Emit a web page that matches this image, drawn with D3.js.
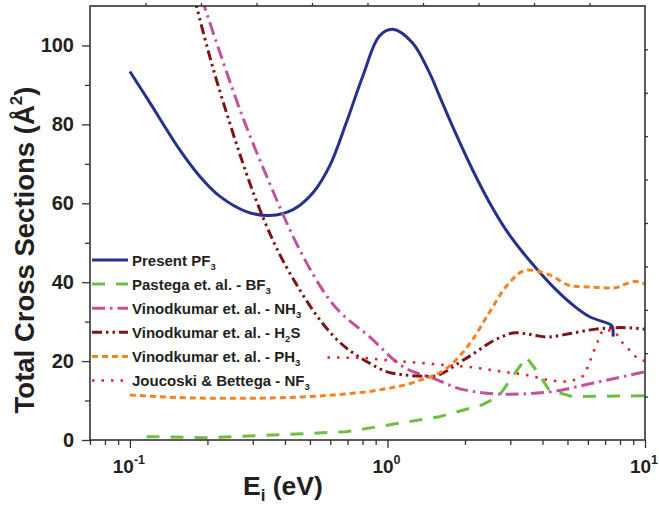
<!DOCTYPE html>
<html>
<head>
<meta charset="utf-8">
<script src="https://cdn.jsdelivr.net/npm/d3@7"></script>
<style>
  body { margin: 0; background: #fff; }
  svg text { font-family: "Liberation Sans", Arial, sans-serif; font-weight: bold; fill: #231f20; }
</style>
</head>
<body>
<div id="chart"></div>
<script>
var width = 659
var height = 506

// data: [energy (eV), cross section (A^2)]
var presentPF3 = [[0.1, 93.4], [0.1195, 85.5], [0.156, 73.6], [0.187, 66.8], [0.223, 61.8], [0.283, 57.9],
    [0.349, 56.9], [0.43, 58.4], [0.513, 62.6], [0.596, 69.4], [0.692, 80.4], [0.802, 92.2], [0.931, 102.4],
    [1.049, 104.1], [1.25, 100.7], [1.455, 93.1], [1.59, 87.3], [1.79, 79.5], [2.14, 68.5], [2.48, 60.4],
    [2.89, 53.2], [3.35, 47.6], [3.83, 43.1], [4.51, 38.1], [5.23, 34.3], [6.07, 31.3], [7.36, 29.2],
    [7.48, 28.6], [7.52, 26.2]];
var pastegaBF3 = [[0.116, 0.85], [0.198, 0.6], [0.319, 1.1], [0.69, 2.1], [1.01, 3.8], [1.59, 5.9], [2.33, 8.9],
    [2.7, 11.0], [3.46, 21.0], [3.77, 17.8], [4.24, 12.7], [5.22, 11.0], [10, 11.2]];
var vinodNH3 = [[0.19, 112], [0.226, 97.3], [0.275, 81.6], [0.344, 66.0], [0.436, 50.8], [0.596, 35.5],
    [0.864, 25.8], [1.146, 18.6], [1.5, 15.7], [1.99, 12.7], [2.97, 11.6], [4.38, 12.3], [6.25, 14.4], [10, 17.3]];
var vinodH2S = [[0.178, 112], [0.204, 97.3], [0.244, 80.4], [0.305, 61.8], [0.358, 50.8], [0.456, 38.1],
    [0.612, 26.6], [0.85, 19.5], [1.05, 16.9], [1.47, 16.1], [2.02, 20.7], [2.7, 25.8], [3.15, 27.2],
    [3.77, 26.5], [4.15, 26.1], [5.23, 27.1], [6.43, 28.1], [8.1, 28.5], [10, 28.1]];
var vinodPH3 = [[0.1, 11.4], [0.204, 10.6], [0.292, 10.6], [0.61, 11.4], [0.93, 12.7], [1.29, 14.8],
    [1.73, 18.6], [2.14, 25.4], [2.48, 32.2], [2.89, 38.9], [3.5, 43.1], [4.24, 41.9], [5.22, 39.0],
    [6.07, 38.8], [7.46, 38.5], [9.2, 40.2], [10, 39.6]];
var joucoskiNF3 = [[0.585, 20.9], [0.78, 20.8], [1.05, 20.1], [1.54, 19.2], [2.27, 18.2], [2.8, 17.3],
    [3.45, 16.5], [4.24, 15.2], [4.78, 14.8], [5.3, 15.2], [5.8, 16.5], [6.07, 19.5], [6.6, 25.4],
    [6.9, 27.9], [7.6, 27.5], [8.0, 25.4], [8.7, 22.8], [9.2, 21.1], [10, 20.0]];

var legendLabels = [["Present PF", "3", ""], ["Pastega et. al. - BF", "3", ""], ["Vinodkumar et. al. - NH", "3", ""],
    ["Vinodkumar et. al. - H", "2", "S"], ["Vinodkumar et. al. - PH", "3", ""], ["Joucoski & Bettega - NF", "3", ""]];
var xMajorTicks = [0.1, 1, 10];
var xMinorTicks = [0.07, 0.08, 0.09, 0.2, 0.3, 0.4, 0.5, 0.6, 0.7, 0.8, 0.9, 2, 3, 4, 5, 6, 7, 8, 9];
var yMajorTicks = [0, 20, 40, 60, 80, 100];
var yMinorTicks = [10, 30, 50, 70, 90];

var series = [
    { data: presentPF3, color: '#27318b', dash: null, width: 3, curve: d3.curveCatmullRom.alpha(0.5) },
    { data: pastegaBF3, color: '#6cbf43', dash: '13,11', width: 3, curve: d3.curveLinear },
    { data: vinodNH3, color: '#c4509e', dash: '13,5,2.5,5', width: 3, curve: d3.curveMonotoneX },
    { data: vinodH2S, color: '#7f1416', dash: '10,4,2.5,4,2.5,4', width: 3, curve: d3.curveMonotoneX },
    { data: vinodPH3, color: '#f7821f', dash: '6,4', width: 3, curve: d3.curveMonotoneX },
    { data: joucoskiNF3, color: '#ed1c24', dash: '2.5,7', width: 2.5, curve: d3.curveMonotoneX }
];

// plot box in pixels
var plotL = 90, plotR = 645, plotT = 6, plotB = 440;

var x = d3.scaleLog().domain([0.07, 10]).range([plotL, plotR]);
var y = d3.scaleLinear().domain([0, 110]).range([plotB, plotT]);

var svg = d3.select('#chart').append('svg')
    .attr('width', width)
    .attr('height', height);

svg.append('clipPath').attr('id', 'plotclip')
    .append('rect')
    .attr('x', plotL).attr('y', plotT)
    .attr('width', plotR - plotL).attr('height', plotB - plotT);

var line = d3.line()
    .x(function(d) { return x(d[0]); })
    .y(function(d) { return y(d[1]); });

var plot = svg.append('g').attr('clip-path', 'url(#plotclip)');

series.forEach(function(s) {
    plot.append('path')
        .attr('d', line.curve(s.curve)(s.data))
        .attr('fill', 'none')
        .attr('stroke', s.color)
        .attr('stroke-width', s.width)
        .attr('stroke-dasharray', s.dash);
});

// axes
var axisColor = '#333';

function styleAxis(g) {
    g.select('.domain').remove();
    g.selectAll('line').attr('stroke', axisColor).attr('stroke-width', 1.3);
    g.selectAll('text').remove();
}

svg.append('g').attr('transform', 'translate(0,' + plotB + ')')
    .call(d3.axisBottom(x).tickValues(xMajorTicks).tickSize(8))
    .call(styleAxis);
svg.append('g').attr('transform', 'translate(0,' + plotB + ')')
    .call(d3.axisBottom(x).tickValues(xMinorTicks).tickSize(5))
    .call(styleAxis);
svg.append('g').attr('transform', 'translate(' + plotL + ',0)')
    .call(d3.axisLeft(y).tickValues(yMajorTicks).tickSize(8))
    .call(styleAxis);
svg.append('g').attr('transform', 'translate(' + plotL + ',0)')
    .call(d3.axisLeft(y).tickValues(yMinorTicks).tickSize(5))
    .call(styleAxis);

// top and right frame ticks (plain divisions)
var xTop = d3.scaleLinear().domain([0, 10]).range([plotL, plotR]);
var yRight = d3.scaleLinear().domain([0, 10]).range([plotB, plotT]);
svg.append('g').attr('transform', 'translate(0,' + plotT + ')')
    .call(d3.axisTop(xTop).tickValues(d3.range(1, 10)).tickSize(3))
    .call(styleAxis);
svg.append('g').attr('transform', 'translate(' + plotR + ',0)')
    .call(d3.axisRight(yRight).tickValues(d3.range(1, 10)).tickSize(3))
    .call(styleAxis);

svg.append('rect')
    .attr('x', plotL).attr('y', plotT)
    .attr('width', plotR - plotL).attr('height', plotB - plotT)
    .attr('fill', 'none')
    .attr('stroke', axisColor)
    .attr('stroke-width', 1.6);

// tick labels
svg.selectAll('.ylab').data(yMajorTicks).enter()
    .append('text')
    .attr('class', 'ylab')
    .attr('x', 74)
    .attr('y', function(d) { return y(d) + 7; })
    .attr('text-anchor', 'end')
    .attr('font-size', 20)
    .text(function(d) { return d; });

var xl = svg.selectAll('.xlab').data(xMajorTicks).enter()
    .append('text')
    .attr('class', 'xlab')
    .attr('x', function(d) { return x(d) - 1; })
    .attr('y', 473)
    .attr('text-anchor', 'middle')
    .attr('font-size', 19);
xl.append('tspan').text('10');
xl.append('tspan')
    .attr('font-size', 12.5)
    .attr('dy', -9)
    .text(function(d) { return Math.round(Math.log10(d)); });

// axis titles
var xt = svg.append('text')
    .attr('x', 243)
    .attr('y', 495)
    .attr('font-size', 26.5);
xt.append('tspan').text('E');
xt.append('tspan').attr('font-size', 17).attr('dy', 6).text('i');
xt.append('tspan').attr('dy', -6).text(' (eV)');

var yt = svg.append('text')
    .attr('transform', 'translate(34,250) rotate(-90)')
    .attr('text-anchor', 'middle')
    .attr('font-size', 27.5);
yt.append('tspan').text('Total Cross Sections (Å');
yt.append('tspan').attr('font-size', 17).attr('dy', -12).text('2');
yt.append('tspan').attr('dy', 12).text(')');

// legend
var legend = svg.append('g');
series.forEach(function(s, i) {
    var ly = 260 + i * 24.1;
    legend.append('line')
        .attr('x1', 92).attr('x2', 128)
        .attr('y1', ly).attr('y2', ly)
        .attr('stroke', s.color)
        .attr('stroke-width', s.width)
        .attr('stroke-dasharray', s.dash);
    var t = legend.append('text')
        .attr('x', 132)
        .attr('y', ly + 5.5)
        .attr('font-size', 15);
    t.append('tspan').text(legendLabels[i][0]);
    t.append('tspan').attr('font-size', 9.5).attr('dy', 4).text(legendLabels[i][1]);
    if (legendLabels[i][2]) {
        t.append('tspan').attr('dy', -4).text(legendLabels[i][2]);
    }
});
</script>
</body>
</html>
